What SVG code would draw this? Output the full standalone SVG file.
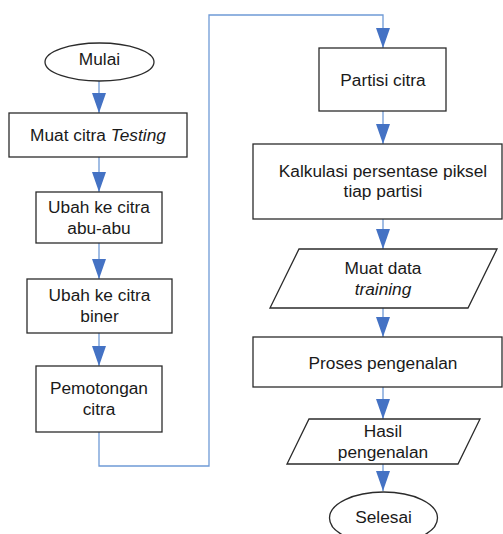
<svg xmlns="http://www.w3.org/2000/svg" width="503" height="534" viewBox="0 0 503 534">
<defs>
<style>
.n{fill:#fff;stroke:#2b2b2b;stroke-width:1.3}
.t{font-family:"Liberation Sans",Arial,sans-serif;font-size:17.3px;fill:#1a1a1a;text-anchor:middle}
.c{fill:none;stroke:#6f9ad6;stroke-width:1.3}
</style>
<marker id="ah" markerWidth="20" markerHeight="14" refX="20" refY="7" orient="auto" markerUnits="userSpaceOnUse" viewBox="0 0 20 14">
<path d="M0,0 L20,7 L0,14 Z" fill="#4472c4"/>
</marker>
</defs>
<g id="connectors">
<path class="c" d="M99,81 V113" marker-end="url(#ah)"/>
<path class="c" d="M99,157 V192" marker-end="url(#ah)"/>
<path class="c" d="M99,243 V279" marker-end="url(#ah)"/>
<path class="c" d="M99,333 V366" marker-end="url(#ah)"/>
<path class="c" d="M99,432 V466 H209 V15 H383 V48" marker-end="url(#ah)"/>
<path class="c" d="M383,111 V144" marker-end="url(#ah)"/>
<path class="c" d="M383,219 V249" marker-end="url(#ah)"/>
<path class="c" d="M383,308 V337" marker-end="url(#ah)"/>
<path class="c" d="M383,387 V419" marker-end="url(#ah)"/>
<path class="c" d="M383,464 V491" marker-end="url(#ah)"/>
</g>
<g id="mulai">
<ellipse class="n" cx="99.5" cy="62" rx="54.5" ry="19"/>
<text class="t" x="99.5" y="65">Mulai</text>
</g>
<g id="muat-citra">
<rect class="n" x="9" y="113" width="178" height="44"/>
<text class="t" x="98" y="141">Muat citra <tspan font-style="italic">Testing</tspan></text>
</g>
<g id="abu">
<rect class="n" x="36" y="192" width="126" height="51"/>
<text class="t" x="99" y="213">Ubah ke citra</text>
<text class="t" x="99" y="233.5">abu-abu</text>
</g>
<g id="biner">
<rect class="n" x="27" y="279" width="145" height="54"/>
<text class="t" x="99.5" y="301">Ubah ke citra</text>
<text class="t" x="99.5" y="321.5">biner</text>
</g>
<g id="potong">
<rect class="n" x="36" y="366" width="126" height="66"/>
<text class="t" x="99" y="394">Pemotongan</text>
<text class="t" x="99" y="414.5">citra</text>
</g>
<g id="partisi">
<rect class="n" x="319" y="48" width="127" height="63"/>
<text class="t" x="383" y="86">Partisi citra</text>
</g>
<g id="kalkulasi">
<rect class="n" x="253" y="144" width="249" height="75"/>
<text class="t" x="383" y="176.5">Kalkulasi persentase piksel</text>
<text class="t" x="383" y="197">tiap partisi</text>
</g>
<g id="muat-data">
<polygon class="n" points="299,249 497,249 468,308 270,308"/>
<text class="t" x="383" y="274">Muat data</text>
<text class="t" x="383" y="294.5" font-style="italic">training</text>
</g>
<g id="proses">
<rect class="n" x="253" y="337" width="249" height="50"/>
<text class="t" x="383" y="368.5">Proses pengenalan</text>
</g>
<g id="hasil">
<polygon class="n" points="309,419 480,419 458,464 287,464"/>
<text class="t" x="383" y="437">Hasil</text>
<text class="t" x="383" y="457.5">pengenalan</text>
</g>
<g id="selesai">
<ellipse class="n" cx="383.5" cy="518" rx="54" ry="26"/>
<text class="t" x="383.5" y="523">Selesai</text>
</g>
</svg>
